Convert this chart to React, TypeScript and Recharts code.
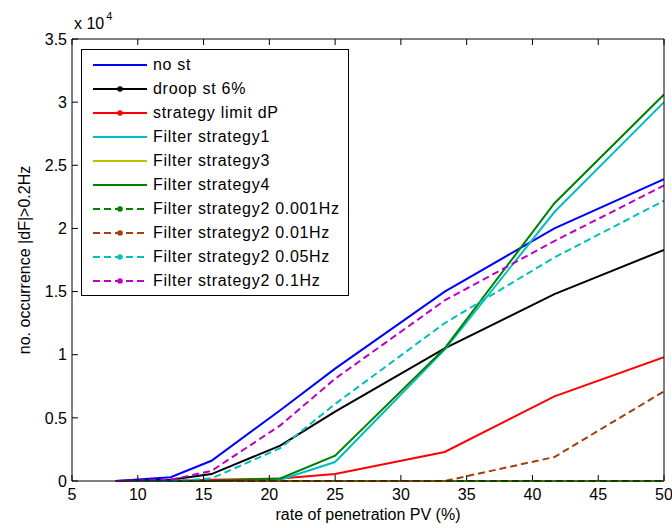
import React from 'react';
import { LineChart, Line, XAxis, YAxis, Legend, Label } from 'recharts';

// x: rate of penetration PV (%)
const penetration = [8.33, 12.5, 15.6, 20.83, 25, 33.33, 41.67, 50];

// y: number of occurrences |dF| > 0.2 Hz
const noSt = [0, 300, 1600, 5600, 8900, 15000, 20000, 23900];
const droopSt = [0, 100, 550, 2800, 5500, 10500, 14800, 18300];
const limitDP = [0, 0, 100, 200, 550, 2300, 6700, 9800];
const filter1 = [0, 0, 0, 100, 1500, 10400, 21300, 30000];
const filter3 = [0, 0, 0, 0, 0, 0, 0, 0];
const filter4 = [0, 0, 0, 200, 2000, 10500, 22000, 30600];
const filter2_0001 = [0, 0, 0, 0, 0, 0, 0, 0];
const filter2_001 = [0, 0, 0, 0, 0, 0, 1900, 7100];
const filter2_005 = [0, 0, 200, 2600, 6100, 12500, 17700, 22200];
const filter2_01 = [0, 100, 800, 4400, 8100, 14300, 19000, 23400];

const xTicks = [5, 10, 15, 20, 25, 30, 35, 40, 45, 50];
const yTicks = [0, 5000, 10000, 15000, 20000, 25000, 30000, 35000];

const xTitle = 'rate of penetration PV (%)';
const yTitle = 'no. occurrence |dF|>0.2Hz';

const series = [
  { key: 'noSt', name: 'no st', values: noSt, color: '#0000ff', dash: undefined, marker: false },
  { key: 'droopSt', name: 'droop st 6%', values: droopSt, color: '#000000', dash: undefined, marker: true },
  { key: 'limitDP', name: 'strategy limit dP', values: limitDP, color: '#ff0000', dash: undefined, marker: true },
  { key: 'filter1', name: 'Filter strategy1', values: filter1, color: '#00bfbf', dash: undefined, marker: false },
  { key: 'filter3', name: 'Filter strategy3', values: filter3, color: '#bfbf00', dash: undefined, marker: false },
  { key: 'filter4', name: 'Filter strategy4', values: filter4, color: '#008000', dash: undefined, marker: false },
  { key: 'filter2_0001', name: 'Filter strategy2 0.001Hz', values: filter2_0001, color: '#008000', dash: '7 4', marker: true },
  { key: 'filter2_001', name: 'Filter strategy2 0.01Hz', values: filter2_001, color: '#a0400f', dash: '7 4', marker: true },
  { key: 'filter2_005', name: 'Filter strategy2 0.05Hz', values: filter2_005, color: '#00bfbf', dash: '7 4', marker: true },
  { key: 'filter2_01', name: 'Filter strategy2 0.1Hz', values: filter2_01, color: '#bf00bf', dash: '7 4', marker: true },
];

const data = penetration.map((p, i) => {
  const row: any = { p };
  series.forEach((s) => {
    row[s.key] = s.values[i];
  });
  return row;
});

const FONT = '"Liberation Sans", Arial, Helvetica, sans-serif';

const renderLegend = (props: any) => {
  const payload = props.payload || [];
  const ordered = series
    .map((s) => ({ s, entry: payload.find((e: any) => e.dataKey === s.key) }))
    .filter((o) => o.entry);
  return (
    <div
      style={{
        border: '1px solid #000',
        background: '#fff',
        width: 268,
        height: 247,
        boxSizing: 'border-box',
        paddingTop: 3,
        fontFamily: FONT,
        fontSize: 16,
        color: '#000',
      }}
    >
      {ordered.map(({ s, entry }: any) => (
        <div key={s.key} style={{ display: 'flex', alignItems: 'center', height: 24 }}>
          <svg width={66} height={24} style={{ display: 'block', flex: 'none' }}>
            <line x1={11} x2={65} y1={12} y2={12} stroke={entry.color} strokeWidth={2} strokeDasharray={s.dash} />
            {s.marker && <circle cx={38} cy={12} r={2.8} fill={entry.color} />}
          </svg>
          <span style={{ marginLeft: 5, letterSpacing: 0.7, whiteSpace: 'nowrap' }}>{entry.value}</span>
        </div>
      ))}
    </div>
  );
};

const YTitle = (props: any) => {
  const vb = props.viewBox;
  const cx = vb.x - 47;
  const cy = vb.y + vb.height / 2;
  return (
    <text
      x={cx}
      y={cy}
      transform={`rotate(-90 ${cx} ${cy})`}
      textAnchor="middle"
      dominantBaseline="central"
      fontSize={16}
      fontFamily={FONT}
      fill="#000"
    >
      {yTitle}
    </text>
  );
};

const Exponent = (props: any) => {
  const vb = props.viewBox;
  return (
    <text x={vb.x + 3} y={vb.y - 10} fontSize={16} fontFamily={FONT} fill="#000">
      x 10
      <tspan fontSize={11} dy={-9} dx={2}>
        4
      </tspan>
    </text>
  );
};

const XTitle = (props: any) => {
  const vb = props.viewBox;
  return (
    <text
      x={vb.x + vb.width / 2}
      y={vb.y + 39}
      textAnchor="middle"
      fontSize={16}
      fontFamily={FONT}
      fill="#000"
    >
      {xTitle}
    </text>
  );
};

const tickStyle = { fontSize: 16, fontFamily: FONT, fill: '#000' };
const axisLine = { stroke: '#000', strokeWidth: 1 };
const tickLine = { stroke: '#000', strokeWidth: 1 };

export default function App() {
  return (
    <div style={{ position: 'absolute', left: 0, top: 0, width: 672, height: 528, background: '#fff' }}>
      <LineChart width={672} height={528} data={data} margin={{ top: 38, right: 7, bottom: 46, left: 71 }}>
        <XAxis
          xAxisId="b"
          dataKey="p"
          type="number"
          domain={[5, 50]}
          ticks={xTicks}
          allowDataOverflow
          height={1}
          orientation="bottom"
          axisLine={axisLine}
          tickLine={tickLine}
          tickSize={-6}
          tickMargin={14}
          tick={tickStyle}
          interval={0}
        >
          <Label content={XTitle} />
        </XAxis>
        <XAxis
          xAxisId="t"
          dataKey="p"
          type="number"
          domain={[5, 50]}
          ticks={xTicks}
          height={1}
          orientation="top"
          axisLine={axisLine}
          tickLine={tickLine}
          tickSize={-6}
          tick={() => <g />}
          interval={0}
        />
        <YAxis
          yAxisId="l"
          type="number"
          domain={[0, 35000]}
          ticks={yTicks}
          width={1}
          orientation="left"
          axisLine={axisLine}
          tickLine={tickLine}
          tickSize={-6}
          tickMargin={11}
          tick={tickStyle}
          tickFormatter={(v: number) => String(v / 10000)}
          interval={0}
        >
          <Label content={YTitle} />
          <Label content={Exponent} />
        </YAxis>
        <YAxis
          yAxisId="r"
          type="number"
          domain={[0, 35000]}
          ticks={yTicks}
          width={1}
          orientation="right"
          axisLine={axisLine}
          tickLine={tickLine}
          tickSize={-6}
          tick={() => <g />}
          interval={0}
        />
        <Legend
          layout="vertical"
          align="center"
          verticalAlign="middle"
          content={renderLegend}
          wrapperStyle={{ left: 81, top: 49, width: 268, height: 247 }}
        />
        {series.map((s) => (
          <Line
            key={s.key}
            xAxisId="b"
            yAxisId="l"
            type="linear"
            dataKey={s.key}
            name={s.name}
            stroke={s.color}
            strokeWidth={2}
            strokeDasharray={s.dash}
            dot={false}
            activeDot={false}
            isAnimationActive={false}
          />
        ))}
      </LineChart>
    </div>
  );
}
